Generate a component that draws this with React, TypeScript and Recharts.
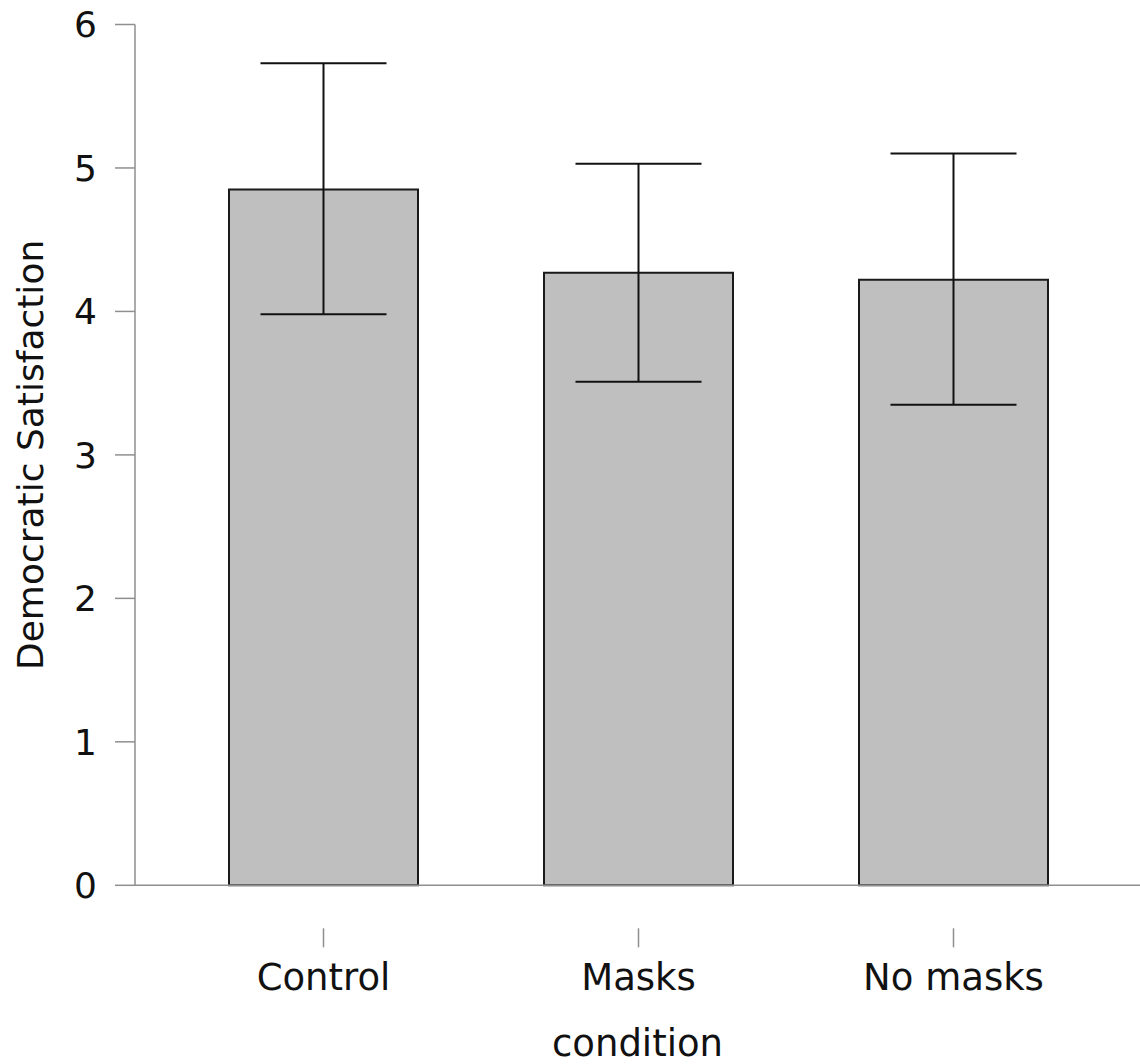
import React from 'react'
import { BarChart, Bar, XAxis, YAxis, ErrorBar } from 'recharts'

const conditions = ['Control', 'Masks', 'No masks']
const means = [4.85, 4.27, 4.22]
const lowerCI = [3.98, 3.51, 3.35]
const upperCI = [5.73, 5.03, 5.1]
const yTicks = [0, 1, 2, 3, 4, 5, 6]

const FONT = '"DejaVu Sans", Verdana, sans-serif'
const AXIS = '#8f8f8f'
const INK = '#111'

const data = conditions.map((c, i) => ({
  condition: c,
  mean: means[i],
  err: [means[i] - lowerCI[i], upperCI[i] - means[i]],
}))

const XTick = (props: any) => {
  const { x, y, payload } = props
  return (
    <g>
      <line x1={x} x2={x} y1={y + 43} y2={y + 62} stroke={AXIS} strokeWidth={1.5} />
      <text x={x} y={y + 104.5} textAnchor="middle" fontSize={37} fontFamily={FONT} fill={INK}>
        {payload.value}
      </text>
    </g>
  )
}

const XTitle = (props: any) => {
  const vb = props.viewBox
  return (
    <text x={vb.x + vb.width / 2} y={vb.y + 171} textAnchor="middle" fontSize={37} fontFamily={FONT} fill={INK}>
      condition
    </text>
  )
}

const YTitle = (props: any) => {
  const vb = props.viewBox
  const cy = vb.y + vb.height / 2
  return (
    <text x={43} y={cy} transform={`rotate(-90, 43, ${cy})`} textAnchor="middle" fontSize={36} fontFamily={FONT} fill={INK}>
      Democratic Satisfaction
    </text>
  )
}

const App = () => {
  return (
    <div style={{ position: 'absolute', left: 0, top: 0, background: '#fff' }}>
      <BarChart width={1140} height={1064} data={data} margin={{ top: 24.5, right: 0, bottom: 0, left: 0 }}>
        <XAxis
          dataKey="condition"
          height={178.7}
          padding={{ left: 31, right: 29 }}
          axisLine={{ stroke: AXIS, strokeWidth: 1.5 }}
          tickLine={false}
          tickSize={0}
          tickMargin={0}
          tick={<XTick />}
          label={{ content: <XTitle /> }}
        />
        <YAxis
          width={135}
          domain={[0, 6]}
          ticks={yTicks}
          interval={0}
          axisLine={{ stroke: AXIS, strokeWidth: 1.5 }}
          tickLine={{ stroke: AXIS, strokeWidth: 1.5 }}
          tickSize={20}
          tickMargin={18}
          tick={{ fill: INK, fontSize: 36, fontFamily: FONT }}
          label={{ content: <YTitle /> }}
        />
        <Bar dataKey="mean" fill="#bfbfbf" stroke="#1a1a1a" strokeWidth={2} barSize={189} isAnimationActive={false}>
          <ErrorBar dataKey="err" direction="y" width={63} stroke="#111" strokeWidth={2} isAnimationActive={false} />
        </Bar>
      </BarChart>
    </div>
  )
}

export default App
